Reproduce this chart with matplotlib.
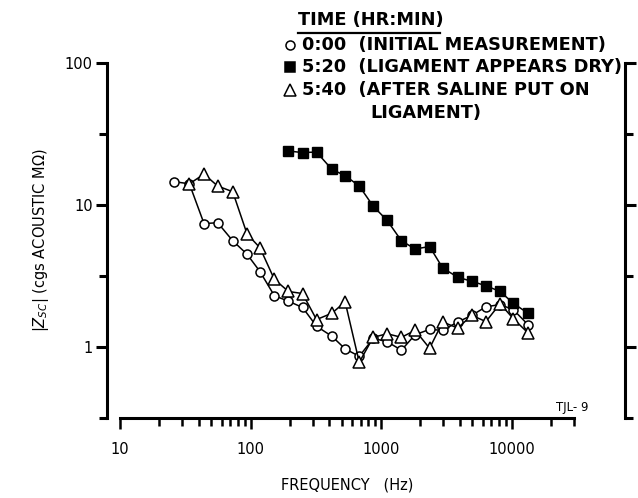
import matplotlib
matplotlib.use("Agg")
import matplotlib.pyplot as plt
from matplotlib.ticker import FixedLocator, FixedFormatter, NullFormatter
from matplotlib.lines import Line2D

plt.rcParams['font.family'] = ['DejaVu Sans']
plt.rcParams['mathtext.fontset'] = 'dejavusans'

# frequency (Hz) of every measurement point
freq = [26, 34, 44, 56, 73, 94, 118, 152, 195, 250, 320, 420, 530,
        680, 870, 1110, 1430, 1820, 2350, 2960, 3860, 4950, 6350,
        8150, 10300, 13300]

# 0:00 initial measurement
z_initial = [14.6, 14.1, 7.4, 7.5, 5.6, 4.5, 3.4, 2.3, 2.1, 1.9, 1.4,
             1.19, 0.97, 0.86, 1.15, 1.09, 0.95, 1.22, 1.33, 1.31, 1.5,
             1.67, 1.92, 1.99, 1.83, 1.44]

# 5:20 ligament appears dry (starts at the 9th frequency)
freq_dry = freq[8:]
z_dry = [24.0, 23.4, 23.6, 17.8, 16.1, 13.6, 9.8, 7.8, 5.6, 4.9, 5.1,
         3.6, 3.1, 2.9, 2.7, 2.46, 2.03, 1.73]

# 5:40 after saline put on (starts at the 2nd frequency)
freq_saline = freq[1:]
z_saline = [14.1, 16.5, 13.6, 12.4, 6.25, 5.0, 3.0, 2.46, 2.38, 1.56,
            1.73, 2.08, 0.78, 1.17, 1.24, 1.17, 1.31, 0.98, 1.5, 1.36,
            1.67, 1.51, 2.02, 1.58, 1.26]

legend_title = "TIME (HR:MIN)"
legend_labels = ["0:00  (INITIAL MEASUREMENT)",
                 "5:20  (LIGAMENT APPEARS DRY)",
                 "5:40  (AFTER SALINE PUT ON"]

W, H = 638, 498
fig = plt.figure(figsize=(W / 100, H / 100), dpi=100)
ax = fig.add_axes([120 / W, 1 - 418 / H, (574 - 120) / W, (418 - 63) / H])

lw = 1.1
ax.plot(freq, z_initial, color='black', lw=lw, marker='o', ms=6.5,
        mfc='white', mec='black', mew=1.1, zorder=3)
ax.plot(freq_saline, z_saline, color='black', lw=lw, marker='^', ms=8,
        mfc='white', mec='black', mew=1.1, zorder=4)
ax.plot(freq_dry, z_dry, color='black', lw=lw, marker='s', ms=6.5,
        mfc='black', mec='black', zorder=5)

ax.set_xscale('log')
ax.set_yscale('log')
ax.set_xlim(10, 30000)
ax.set_ylim(10 ** -0.5, 100)

# spines: separated axes like the drafted original
ax.spines['top'].set_visible(False)
for s in ['left', 'right', 'bottom']:
    ax.spines[s].set_linewidth(2.2)
ax.spines['left'].set_position(('outward', 9.5))
ax.spines['right'].set_position(('outward', 37))

# y ticks
ax.yaxis.set_major_locator(FixedLocator([1, 10, 100]))
ax.yaxis.set_major_formatter(FixedFormatter(['1', '10', '100']))
ax.yaxis.set_minor_locator(FixedLocator([10 ** -0.5, 10 ** 0.5, 10 ** 1.5]))
ax.yaxis.set_minor_formatter(NullFormatter())
ax.tick_params(axis='y', which='both', left=True, right=True,
               direction='out', width=2.2, labelsize=10.5, pad=2)
ax.tick_params(axis='y', which='major', length=8)
ax.tick_params(axis='y', which='minor', length=6)

# x ticks
ax.xaxis.set_major_locator(FixedLocator([10, 100, 1000, 10000]))
ax.xaxis.set_major_formatter(FixedFormatter(['10', '100', '1000', '10000']))
xminor = [m * 10 ** d for d in range(1, 4) for m in range(2, 10)] + [20000, 30000]
ax.xaxis.set_minor_locator(FixedLocator(xminor))
ax.xaxis.set_minor_formatter(NullFormatter())
ax.tick_params(axis='x', which='both', direction='out', width=1.8,
               labelsize=10.5, pad=9)
ax.tick_params(axis='x', which='major', length=8)
ax.tick_params(axis='x', which='minor', length=6)

ax.set_xlabel("FREQUENCY   (Hz)", fontsize=10.5, labelpad=15)
ax.set_ylabel(r"$|Z_{SC}|$ (cgs ACOUSTIC M$\Omega$)", fontsize=10.5,
              labelpad=10)

# drafted legend
fs = 12.8
fig.text(298 / W, 1 - 20 / H, legend_title, fontsize=fs, va='center',
         ha='left', weight='bold')
fig.add_artist(Line2D([298 / W, 440 / W], [1 - 33 / H, 1 - 33 / H],
                      color='black', lw=1.6))
markers = [('o', 'white', 6.5), ('s', 'black', 6.5), ('^', 'white', 8)]
rows = [45, 67, 90]
for (mk, fc, ms), yy, lab in zip(markers, rows, legend_labels):
    fig.add_artist(Line2D([290 / W], [1 - yy / H], marker=mk, ms=ms, mfc=fc,
                          mec='black', mew=1.1, color='black', lw=0))
    fig.text(302 / W, 1 - yy / H, lab, fontsize=fs, va='center', ha='left',
             weight='bold')
fig.text(370 / W, 1 - 113 / H, "LIGAMENT)", fontsize=fs, va='center',
         ha='left', weight='bold')

fig.text(556 / W, 1 - 408 / H, "TJL- 9", fontsize=8.5, va='center', ha='left')

fig.savefig("out.png", dpi=100, facecolor='white')
